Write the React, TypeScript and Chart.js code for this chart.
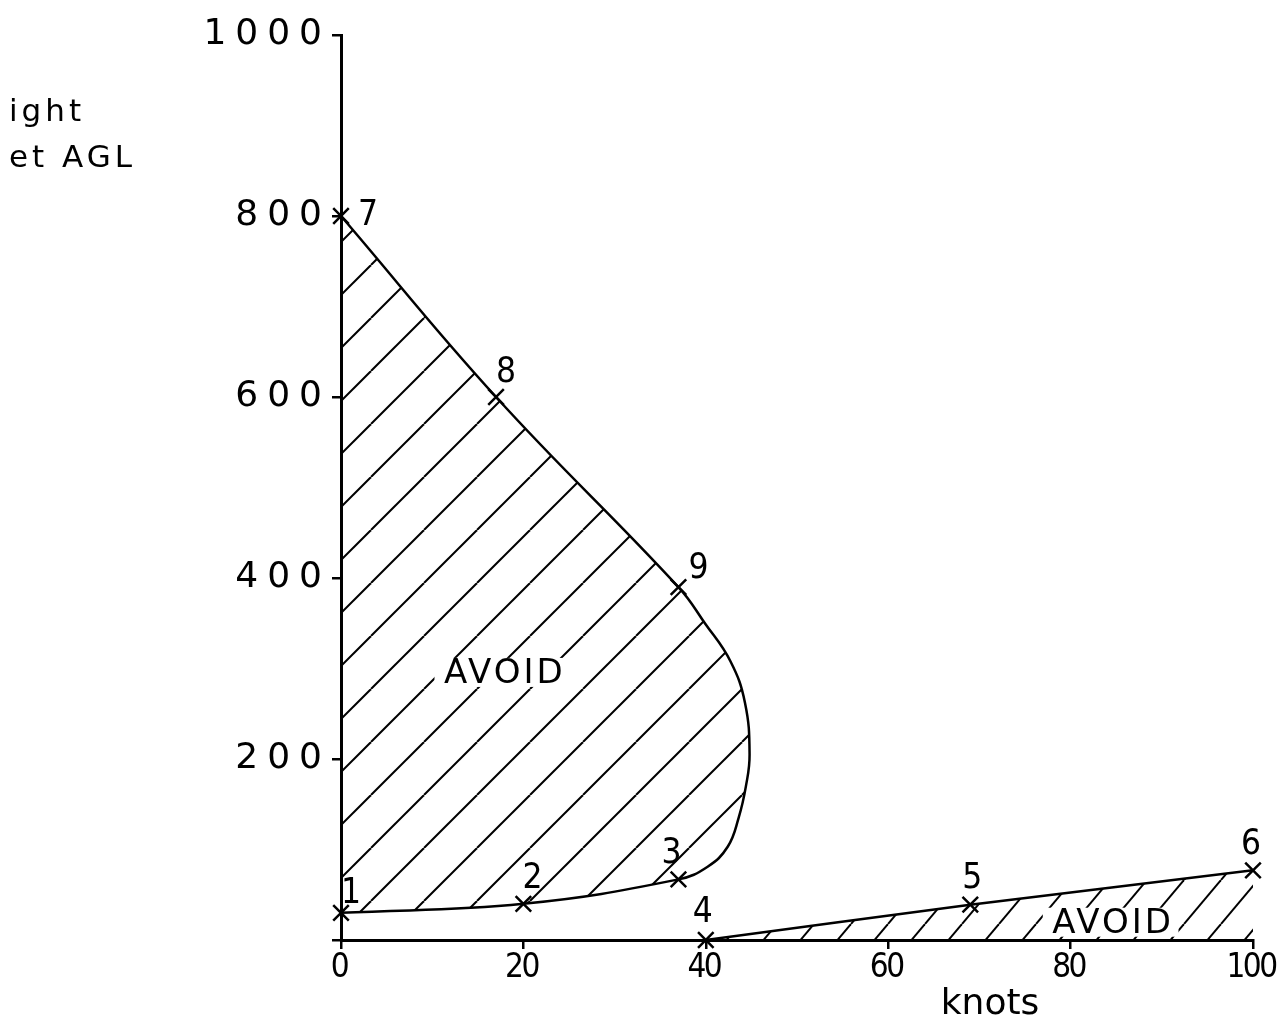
import React, { useEffect, useRef } from 'react';
import { Chart, registerables } from 'chart.js';

Chart.register(...registerables);

// ---- data (knots / feet AGL) ----
const pointLabels = ['1', '2', '3', '4', '5', '6', '7', '8', '9'];
const pointKnots = [0, 20, 37, 40, 69, 100, 0, 17, 37];
const pointFeet = [30, 40, 67, 0, 39, 77, 800, 600, 390];

// upper "avoid" region outline: 1 -> 2 -> 3 -> bulge -> 9 -> 8 -> 7
const upperKnots = [0, 20, 37, 40.2, 42.4, 43.6, 44.4, 44.8, 44.3, 42.7, 39.9, 37, 17, 0];
const upperFeet = [30, 40, 67, 81, 103, 135, 170, 205, 262, 308, 350, 390, 600, 800];

// lower "avoid" region outline: 4 -> 5 -> 6
const lowerKnots = [40, 69, 100];
const lowerFeet = [0, 39, 77];

const xTicks = [0, 20, 40, 60, 80, 100];
const yTicks = [0, 200, 400, 600, 800, 1000];

const avoidText = ['AVOID', 'AVOID'];
const avoidKnots = [17.8, 84.5];
const avoidFeet = [294, 18];

// label placement (pixel offsets from each marked point)
const labelDx = [10, 9, -7, -3, 2, -2, 27, 10, 20];
const labelDy = [-19, -25, -25, -27, -26, -25, 0, -24, -18];

const COND = '"DejaVu Sans Condensed", "DejaVu Sans", sans-serif';
const SANS = '"DejaVu Sans", sans-serif';

function makeHatch(w: number, h: number, lw: number) {
  const c = document.createElement('canvas');
  c.width = w;
  c.height = h;
  const g = c.getContext('2d')!;
  g.strokeStyle = '#000';
  g.lineWidth = lw;
  for (const dx of [-w, 0, w]) {
    g.beginPath();
    g.moveTo(dx, h);
    g.lineTo(dx + w, 0);
    g.stroke();
  }
  return g.createPattern(c, 'repeat');
}

const spacedLabels = (spacing: string) => (scale: any) => {
  if (scale.__spaced) return;
  scale.__spaced = true;
  const orig = scale.drawLabels;
  scale.drawLabels = function (area: any) {
    const c = this.ctx;
    c.save();
    c.letterSpacing = spacing;
    orig.call(this, area);
    c.restore();
  };
};

const textPlugin = {
  id: 'hvText',
  afterDatasetsDraw(chart: any) {
    const { ctx } = chart;
    const x = chart.scales.x;
    const y = chart.scales.y;
    ctx.save();
    ctx.textAlign = 'center';
    ctx.textBaseline = 'middle';
    ctx.font = `34px ${SANS}`;
    (ctx as any).letterSpacing = '3px';
    avoidText.forEach((t, i) => {
      const px = x.getPixelForValue(avoidKnots[i]);
      const py = y.getPixelForValue(avoidFeet[i]);
      const w = ctx.measureText(t).width;
      ctx.fillStyle = '#fff';
      ctx.fillRect(px - w / 2 - 8, py - 16, w + 14, 29);
      ctx.fillStyle = '#000';
      ctx.fillText(t, px + 1.5, py);
    });
    (ctx as any).letterSpacing = '0px';
    ctx.font = `35px ${COND}`;
    ctx.fillStyle = '#000';
    const meta = chart.getDatasetMeta(2);
    pointLabels.forEach((t, i) => {
      const el = meta.data[i];
      if (!el) return;
      ctx.fillText(t, el.x + labelDx[i], el.y + labelDy[i]);
    });
    ctx.restore();
  },
};

export default function App() {
  const ref = useRef<HTMLCanvasElement | null>(null);

  useEffect(() => {
    const canvas = ref.current;
    if (!canvas) return;
    const hatchA = makeHatch(53, 53, 2);
    const hatchB = makeHatch(37, 44, 2);

    const upper = upperKnots.map((k, i) => ({ x: k, y: upperFeet[i] }));
    const lower = lowerKnots.map((k, i) => ({ x: k, y: lowerFeet[i] }));
    const marks = pointKnots.map((k, i) => ({ x: k, y: pointFeet[i] }));

    const chart = new Chart(canvas, {
      type: 'scatter',
      data: {
        datasets: [
          {
            data: upper,
            showLine: true,
            borderColor: '#000',
            borderWidth: 2.5,
            backgroundColor: hatchA as any,
            fill: 'shape',
            tension: 0.42,
            pointRadius: 0,
            clip: false as any,
          },
          {
            data: lower,
            showLine: true,
            borderColor: '#000',
            borderWidth: 2.5,
            backgroundColor: hatchB as any,
            fill: 'origin',
            tension: 0.1,
            pointRadius: 0,
          },
          {
            data: marks,
            showLine: false,
            pointStyle: 'crossRot',
            pointRadius: 11,
            pointBorderWidth: 2.5,
            borderColor: '#000',
            backgroundColor: '#000',
            clip: false as any,
          },
        ],
      },
      options: {
        responsive: false,
        animation: false,
        events: [],
        layout: { padding: { left: 0, right: 24, top: 35, bottom: 0 } },
        plugins: {
          legend: { display: false },
          tooltip: { enabled: false },
        },
        scales: {
          x: {
            type: 'linear',
            min: 0,
            max: 100,
            afterBuildTicks: (s: any) => {
              s.ticks = xTicks.map((v) => ({ value: v }));
            },
            afterFit: (s: any) => {
              s.height = 83;
              s.paddingLeft = 0;
              s.paddingRight = 0;
            },
            afterUpdate: spacedLabels('-2.5px'),
            grid: {
              display: true,
              drawOnChartArea: false,
              drawTicks: true,
              tickLength: 9,
              color: '#000',
              lineWidth: 2.5,
            },
            border: { display: true, color: '#000', width: 3 },
            ticks: {
              color: '#000',
              padding: 3,
              labelOffset: -2,
              maxRotation: 0,
              font: { family: COND, size: 33, lineHeight: 1 },
            },
          },
          y: {
            type: 'linear',
            min: 0,
            max: 1000,
            afterBuildTicks: (s: any) => {
              s.ticks = yTicks.map((v) => ({ value: v }));
            },
            afterFit: (s: any) => {
              s.width = 341;
            },
            afterUpdate: spacedLabels('9px'),
            grid: {
              display: true,
              drawOnChartArea: false,
              drawTicks: true,
              tickLength: 9,
              color: '#000',
              lineWidth: 2.5,
            },
            border: { display: true, color: '#000', width: 3 },
            ticks: {
              color: '#000',
              padding: 1,
              font: { family: SANS, size: 36, lineHeight: 1 },
              callback: (v: any) => (Number(v) === 0 ? '' : String(v)),
            },
          },
        },
      },
      plugins: [textPlugin],
    });

    return () => chart.destroy();
  }, []);

  const textBase: React.CSSProperties = {
    position: 'absolute',
    fontFamily: SANS,
    color: '#000',
    whiteSpace: 'nowrap',
    lineHeight: 1,
  };

  return (
    <div
      style={{
        position: 'absolute',
        left: 0,
        top: 0,
        width: 1277,
        height: 1023,
        background: '#fff',
        overflow: 'hidden',
      }}
    >
      <canvas ref={ref} width={1277} height={1023} style={{ display: 'block' }} />
      <div style={{ ...textBase, left: 9, top: 95, fontSize: 31, letterSpacing: '4px' }}>ight</div>
      <div style={{ ...textBase, left: 9, top: 141, fontSize: 31, letterSpacing: '4px' }}>et AGL</div>
      <div style={{ ...textBase, left: 890, width: 200, textAlign: 'center', top: 984, fontSize: 36 }}>
        knots
      </div>
    </div>
  );
}
